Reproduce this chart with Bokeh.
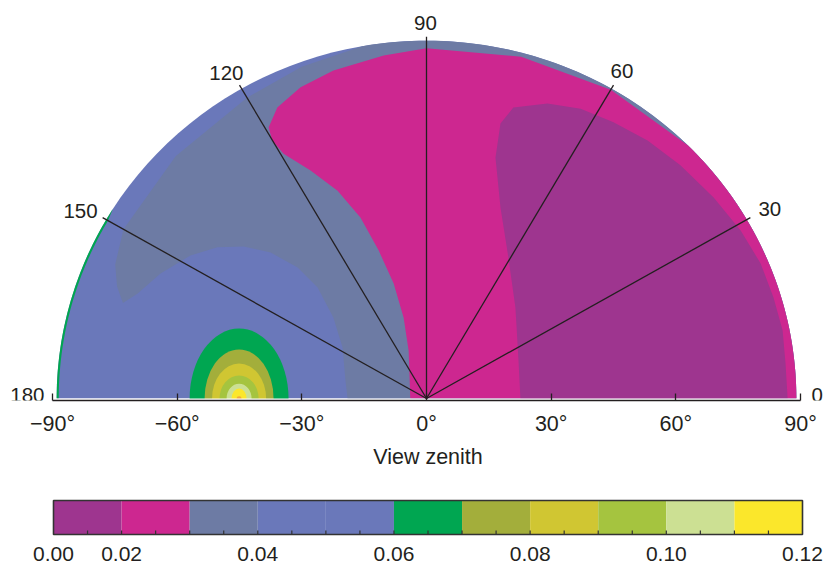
import numpy as np
from bokeh.plotting import figure
from bokeh.layouts import column
from bokeh.models import FixedTicker, Range1d, Label
from bokeh.core.properties import value
from bokeh.embed import file_html
from bokeh.resources import INLINE

# ---------------- colour scale ----------------
level_edges = [0.00, 0.02, 0.03, 0.04, 0.05, 0.06, 0.07, 0.08, 0.09, 0.10, 0.11, 0.12]
level_colors = ["#9E358F", "#CD2790", "#6D7BA4", "#6A78BA", "#6A78BA", "#00A651",
                "#A3AE3B", "#D0C632", "#A5C43F", "#CCE093", "#FBE72B"]
colorbar_label_values = [0.00, 0.02, 0.04, 0.06, 0.08, 0.10, 0.12]
colorbar_labels = ["0.00", "0.02", "0.04", "0.06", "0.08", "0.10", "0.12"]
x_title = "View zenith"

# ---------------- polar grid ----------------
disc_zenith = 89
spoke_azimuths = [30, 60, 90, 120, 150]
spoke_zenith = 90
azimuth_label_az = [0, 30, 60, 90, 120, 150, 180]
azimuth_labels = ["0", "30", "60", "90", "120", "150", "180"]
zenith_ticks = [-90, -60, -30, 0, 30, 60, 90]
zenith_tick_labels = ["\u221290\u00b0", "\u221260\u00b0", "\u221230\u00b0", "0\u00b0",
                      "30\u00b0", "60\u00b0", "90\u00b0"]

# ---------------- contour regions ----------------
# 0.03-0.04 region : edge against the outer 0.04-0.06 rim (azimuth, zenith)
slate_start_az = 100
slate_rim_az = [110, 120, 135, 150, 156, 159.5, 162]
slate_rim_zen = [87.8, 86.4, 85.3, 84.2, 82.0, 79.5, 76.8]
# its lower edge against the 0.04-0.06 dome (x, y in view-zenith degrees)
dome_x = [-69.5, -64.0, -56.8, -50.3, -44.0, -37.5, -31.0, -26.2, -22.4, -20.2, -19.5, -19.0]
dome_y = [26.1, 31.1, 35.6, 37.6, 37.8, 36.3, 32.6, 27.6, 20.1, 12.7, 4.5, 0.0]

# 0.02-0.03 region
magenta_full_az = 45
magenta_rim_az = [60, 75, 90]
magenta_rim_zen = [88.7, 88.0, 87.1]
magenta_x = [-10.3, -22.4, -30.3, -35.9, -38.0, -37.1, -34.4, -27.9, -21.4, -15.9, -11.5, -7.9, -5.5, -4.3, -3.9]
magenta_y = [85.3, 81.6, 77.4, 72.4, 67.4, 64.2, 60.9, 56.7, 51.7, 45.0, 36.8, 28.6, 20.1, 11.9, 0.0]

# 0.00-0.02 region
purple_x = [22.6, 22.1, 21.4, 19.7, 17.8, 16.6, 17.8, 20.9, 29.1, 37.1, 45.0, 53.2, 61.1, 69.1,
            75.6, 80.4, 83.5, 85.7, 86.4, 86.9]
purple_y = [0.0, 10.2, 22.6, 35.1, 47.5, 59.9, 68.4, 72.4, 73.4, 72.1, 68.7, 64.2, 58.0, 50.0,
            41.8, 33.6, 25.1, 16.9, 8.7, 0.0]

# thin 0.06-0.07 edge at grazing backward view
edge_az = [148, 180]
edge_inner_zen = 88.5

# hot spot rings
hotspot_x = -45.1
hotspot_halfwidth = [11.9, 8.3, 6.5, 4.7, 3.0, 1.8]
hotspot_height = [17.4, 12.2, 8.7, 5.7, 3.7, 2.5]
hotspot_level = [5, 6, 7, 8, 9, 10]

# ---------------- layout constants ----------------
W = 825
TOP_H = 445
KX = 748 / 180.0                 # px per degree, horizontal
X0 = -90 - 52 / KX
X1 = 90 + (W - 800) / KX
FRAME_H = 400
KY = 4.02
Y1 = 398 / KY
Y0 = -(FRAME_H - 398) / KY
INK = "#231F20"
FONT = "Liberation Sans"


def arc(r, a0, a1, n=80):
    t = np.radians(np.linspace(a0, a1, n))
    return list(r * np.cos(t)), list(r * np.sin(t))


def polar(az, zen):
    t = np.radians(np.asarray(az, dtype=float))
    z = np.asarray(zen, dtype=float)
    return list(z * np.cos(t)), list(z * np.sin(t))


p = figure(width=W, height=TOP_H, output_backend="svg", toolbar_location=None,
           x_range=Range1d(X0, X1), y_range=Range1d(Y0, Y1),
           y_axis_location=None, min_border_left=0, min_border_right=0,
           min_border_top=0, min_border_bottom=TOP_H - FRAME_H)
p.grid.visible = False
p.outline_line_color = None
p.background_fill_color = "white"
p.border_fill_color = "white"

# full disc (0.04-0.06)
ax, ay = arc(disc_zenith, 0, 180)
p.patch(ax, ay, fill_color=level_colors[3], line_color=None)

# 0.03-0.04
sx, sy = arc(disc_zenith, 0, slate_start_az)
rx, ry = polar(slate_rim_az, slate_rim_zen)
p.patch([dome_x[-1], disc_zenith] + sx + rx + dome_x,
        [0.0, 0.0] + sy + ry + dome_y,
        fill_color=level_colors[2], line_color=None)

# 0.02-0.03
mx, my = arc(disc_zenith, 0, magenta_full_az)
mrx, mry = polar(magenta_rim_az, magenta_rim_zen)
p.patch([magenta_x[-1], disc_zenith] + mx + mrx + magenta_x,
        [0.0, 0.0] + my + mry + magenta_y,
        fill_color=level_colors[1], line_color=None)

# 0.00-0.02
p.patch(purple_x, purple_y, fill_color=level_colors[0], line_color=None)

# grazing edge
ox, oy = arc(disc_zenith, edge_az[0], edge_az[1])
ix, iy = arc(edge_inner_zen, edge_az[1], edge_az[0] + 2)
p.patch(ox + ix, oy + iy, fill_color=level_colors[5], line_color=None)

# hot spot
p.ellipse(x=[hotspot_x] * len(hotspot_level), y=[0.0] * len(hotspot_level),
          width=[2 * w for w in hotspot_halfwidth], height=[2 * h for h in hotspot_height],
          fill_color=[level_colors[i] for i in hotspot_level], line_color=None)
p.ellipse(x=[hotspot_x], y=[0.0], width=[1.2], height=[1.1], fill_color="#F2A93B", line_color=None)

# white strip below the disc
p.quad(left=[X0], right=[X1], bottom=[Y0], top=[0.0], fill_color="white", line_color=None)

# spokes
ex, ey = polar(spoke_azimuths, [spoke_zenith] * len(spoke_azimuths))
p.segment(x0=[0] * len(ex), y0=[0] * len(ey), x1=ex, y1=ey, line_color=INK, line_width=1.3)

# azimuth labels: (dx right, dy up) pixel offsets of the text centre-line from each spoke end
offsets = {"0": (11, 4, "left"), "30": (8, 8.6, "left"), "60": (-3, 13.7, "left"),
           "90": (-1, 13.7, "center"), "120": (4, 12.2, "right"), "150": (-5, 6.6, "right"),
           "180": (-8, 4, "right")}
lx, ly = polar(azimuth_label_az, [spoke_zenith] * len(azimuth_label_az))
for txt, x, y in zip(azimuth_labels, lx, ly):
    dx, dy, al = offsets[txt]
    p.add_layout(Label(x=x + dx / KX, y=y + dy / KY, text=txt, text_align=al,
                       text_baseline="middle", text_font=FONT, text_font_size="20.5px",
                       text_color=INK))

# x axis
xa = p.xaxis[0]
xa.bounds = (zenith_ticks[0], zenith_ticks[-1])
xa.ticker = FixedTicker(ticks=zenith_ticks)
xa.major_label_overrides = {t: s for t, s in zip(zenith_ticks, zenith_tick_labels)}
xa.minor_tick_line_color = None
xa.major_tick_in = 7
xa.major_tick_out = 0
xa.major_tick_line_color = INK
xa.major_tick_line_width = 1.3
xa.axis_line_color = INK
xa.axis_line_width = 1.6
xa.major_label_text_font = FONT
xa.major_label_text_font_size = "21.5px"
xa.major_label_text_color = INK
xa.major_label_standoff = 11

# ---------------- colour bar (+ the axis title above it) ----------------
n = len(level_colors)
CKX = (802 - 53) / n             # px per colour bin
CKY = 34.0                       # px per bar height
CB_H = 567 - TOP_H
BAR_BOTTOM = 534 - TOP_H         # bar bottom, px from the top of this figure
cb = figure(width=W, height=CB_H, output_backend="svg", toolbar_location=None,
            x_range=Range1d(-53 / CKX, n + (W - 802) / CKX),
            y_range=Range1d(-(CB_H - BAR_BOTTOM) / CKY, BAR_BOTTOM / CKY),
            x_axis_location=None, y_axis_location=None, min_border=0)
cb.grid.visible = False
cb.outline_line_color = None
cb.border_fill_color = "white"
cb.quad(left=list(range(n)), right=list(range(1, n + 1)), bottom=[0] * n, top=[1] * n,
        fill_color=level_colors, line_color=None)
tick_pos = [i * 0.5 for i in range(1, 2 * n)]
cb.segment(x0=tick_pos, y0=[0] * len(tick_pos), x1=tick_pos, y1=[4 / CKY] * len(tick_pos),
           line_color="#333333", line_width=1.2)
cb.quad(left=[0], right=[n], bottom=[0], top=[1], fill_color=None,
        line_color="#333333", line_width=1.6)
label_pos = [float(np.argmin(np.abs(np.array(level_edges) - v))) for v in colorbar_label_values]
cb.text(x=label_pos, y=[-19.5 / CKY] * len(label_pos), text=colorbar_labels,
        text_align="center", text_baseline="middle", text_font=value(FONT),
        text_font_size="21px", text_color=INK)
# axis title of the polar plot, centred under the 0 deg tick
cb.text(x=[(427.5 - 53) / CKX], y=[(534 - 456) / CKY], text=[x_title],
        text_align="center", text_baseline="middle", text_font=value(FONT),
        text_font_size="21.5px", text_color=INK)

layout = column(p, cb, spacing=0)
open("out.html", "w").write(file_html(layout, INLINE))
